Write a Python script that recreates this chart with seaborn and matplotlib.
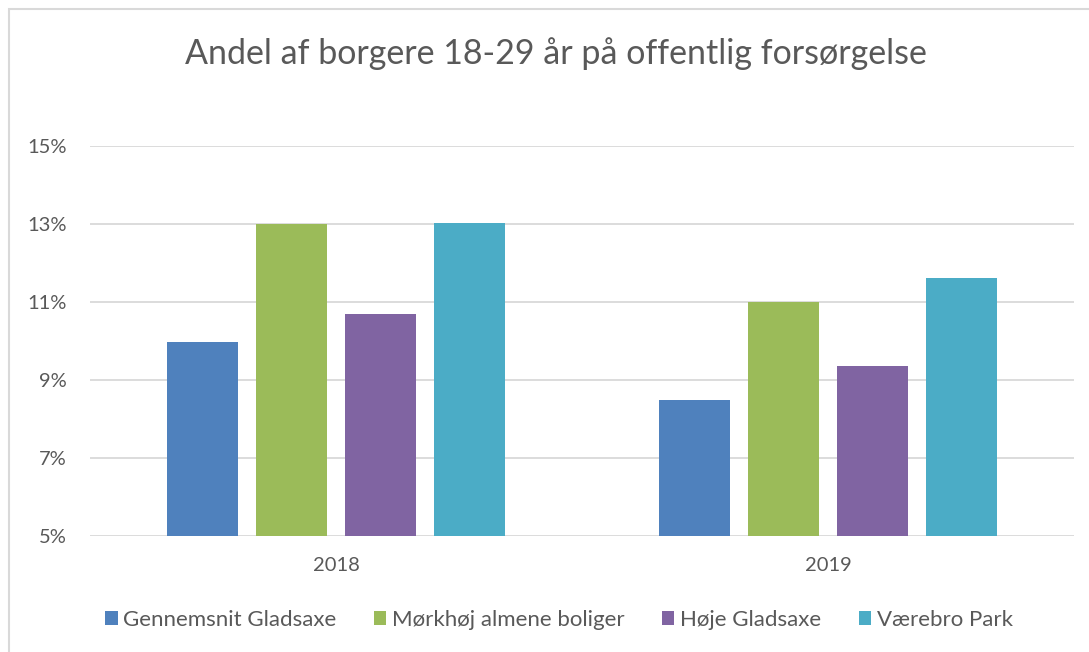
import pandas as pd
import numpy as np
import matplotlib.pyplot as plt
import seaborn as sns
from matplotlib.patches import Patch, Rectangle
from matplotlib.ticker import FuncFormatter

sns.set_theme(style='white')
plt.rcParams['font.family'] = ['Lato', 'DejaVu Sans']

years = ['2018', '2019']
groups = ['Gennemsnit Gladsaxe', 'Mørkhøj almene boliger', 'Høje Gladsaxe', 'Værebro Park']
gennemsnit = [9.97, 8.49]
moerkhoej = [13.0, 11.0]
hoeje = [10.69, 9.36]
vaerebro = [13.03, 11.62]
colors = ['#4F81BD', '#9BBB59', '#8064A2', '#4BACC6']
yticks = [5, 7, 9, 11, 13, 15]

TEXT = '#595959'
GRID = '#D9D9D9'

df = pd.DataFrame({
    'year': years * 4,
    'group': np.repeat(groups, len(years)),
    'value': gennemsnit + moerkhoej + hoeje + vaerebro,
})

fig = plt.figure(figsize=(10.89, 6.52), dpi=100)
W, H = 1089, 652
ax = fig.add_axes([90 / W, 1 - 536 / H, (1074 - 90) / W, (536 - 146) / H])

# chart frame (cut off on right/bottom like the screenshot)
fig.patches.append(Rectangle((8.5 / W, -0.05), 1.2, 1 - 8.5 / H + 0.05,
                             transform=fig.transFigure, fill=False,
                             edgecolor=GRID, lw=1.5))

sns.barplot(data=df, x='year', y='value', hue='group', hue_order=groups,
            palette=colors, width=0.724, gap=0.21, saturation=1,
            linewidth=0, ax=ax, legend=False)

ax.set_ylim(5, 15)
ax.set_yticks(yticks)
ax.yaxis.set_major_formatter(FuncFormatter(lambda v, p: f'{v:.0f}%'))
ax.yaxis.grid(True, color=GRID, lw=1.3)
ax.set_axisbelow(True)
for s in ax.spines.values():
    s.set_visible(False)
ax.tick_params(axis='both', length=0, labelsize=14.5, colors=TEXT)
ax.tick_params(axis='y', pad=17)
ax.tick_params(axis='x', pad=15)
ax.set_xlabel('')
ax.set_ylabel('')

fig.text(556 / W, 1 - 54 / H, 'Andel af borgere 18-29 år på offentlig forsørgelse',
         ha='center', va='center', fontsize=24.5, color=TEXT)

handles = [Patch(facecolor=c, edgecolor='none') for c in colors]
leg = fig.legend(handles, groups, loc='center', bbox_to_anchor=(559 / W, 1 - 620 / H),
                 ncol=4, frameon=False, fontsize=16, handlelength=0.55,
                 handleheight=0.55, handletextpad=0.25, columnspacing=1.7)
for t in leg.get_texts():
    t.set_color(TEXT)

fig.savefig('out.png', dpi=100)
